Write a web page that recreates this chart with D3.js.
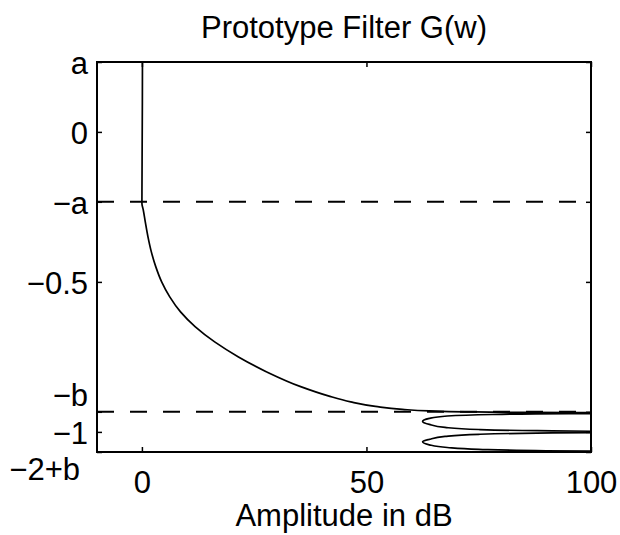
<!DOCTYPE html>
<html>
<head>
<meta charset="utf-8">
<script src="https://cdn.jsdelivr.net/npm/d3@7"></script>
<style>
  body { margin: 0; background: #fff; }
  text { font-family: "Liberation Sans", Arial, Helvetica, sans-serif; fill: #000; }
</style>
</head>
<body>
<div id="chart"></div>
<script>
'use strict';

// band edges
const edgeA = 0.233;
const edgeB = 0.933;

// y tick values and their labels
const yTickValues = [edgeA, 0, -edgeA, -0.5, -edgeB, -1, -2 + edgeB];
const yTickLabels = ['a', '0', '\u2212a', '\u22120.5', '\u2212b', '\u22121', '\u22122+b'];
const xTickValues = [0, 50, 100];

// guide lines (dashed)
const guideLevels = [-edgeA, -edgeB];

// response: normalised frequency (vertical) vs attenuation in dB (horizontal)
const freq = [
  0.233, 0.1, 0, -0.1, -0.2, -0.238,
  -0.26, -0.3, -0.35, -0.4, -0.45, -0.5, -0.55, -0.6, -0.65, -0.7,
  -0.75, -0.8, -0.85, -0.88, -0.9, -0.915, -0.925, -0.93,
  -0.933, -0.935, -0.937,
  -0.939, -0.942, -0.947, -0.955, -0.965, -0.975, -0.985, -0.992, -0.996, -0.999, -1.0,
  -1.001, -1.004, -1.008, -1.015, -1.025, -1.033, -1.043, -1.052, -1.058, -1.063, -1.067
];
const ampDb = [
  0.12, 0.1, 0.07, 0.04, 0.01, 0.0,
  0.3, 0.75, 1.35, 2.1, 3.1, 4.4, 6.2, 8.6, 11.9, 16.2,
  21.5, 27.8, 35.5, 41.5, 46.5, 52, 58, 64,
  72, 85, 140,
  95, 78, 68, 64, 62.5, 64, 67.5, 75, 88, 110, 140,
  110, 88, 75, 67.5, 64, 62.5, 64, 68, 75, 90, 140
];

const W = 620, H = 535;
const margin = { top: 62, right: 29, bottom: 83, left: 97 };
const width = W - margin.left - margin.right;
const height = H - margin.top - margin.bottom;

const svg = d3.select('#chart').append('svg')
  .attr('width', W)
  .attr('height', H)
  .append('g')
  .attr('transform', 'translate(' + margin.left + ',' + margin.top + ')');

const x = d3.scaleLinear().domain([-10, 100]).range([0, width]);
const y = d3.scaleLinear().domain([-2 + edgeB, edgeA]).range([height, 0]);

svg.append('clipPath').attr('id', 'plotClip')
  .append('rect').attr('width', width).attr('height', height);

// dashed guides
svg.selectAll('.guide').data(guideLevels).enter()
  .append('line')
  .attr('class', 'guide')
  .attr('x1', 0).attr('x2', width)
  .attr('y1', function (d) { return y(d); })
  .attr('y2', function (d) { return y(d); })
  .style('stroke', '#000')
  .style('stroke-width', 2)
  .style('stroke-dasharray', '17,16');

// response curve
const pts = freq.map(function (f, i) { return { f: f, db: ampDb[i] }; });
const line = d3.line()
  .x(function (d) { return x(d.db); })
  .y(function (d) { return y(d.f); })
  .curve(d3.curveMonotoneY);

svg.append('path')
  .datum(pts)
  .attr('clip-path', 'url(#plotClip)')
  .attr('d', line)
  .style('fill', 'none')
  .style('stroke', '#000')
  .style('stroke-width', 1.7);

// axes
const fontSize = 31;

svg.append('g')
  .attr('transform', 'translate(0,' + height + ')')
  .call(d3.axisBottom(x).tickValues(xTickValues).tickSizeInner(-5).tickSizeOuter(0).tickPadding(19));

const yAxis = svg.append('g')
  .call(d3.axisLeft(y).tickValues(yTickValues)
    .tickFormat(function (d, i) { return yTickLabels[i]; })
    .tickSizeInner(-5).tickSizeOuter(0).tickPadding(9));

svg.append('g')
  .attr('transform', 'translate(' + width + ',0)')
  .call(d3.axisRight(y).tickValues(yTickValues).tickFormat('').tickSizeInner(-5).tickSizeOuter(0));

svg.append('g')
  .call(d3.axisTop(x).tickValues(xTickValues).tickFormat('').tickSizeInner(-5).tickSizeOuter(0));

svg.selectAll('.domain').remove();
svg.selectAll('.tick line').style('stroke', '#000').style('stroke-width', 1.5);
svg.selectAll('.tick text')
  .style('font-size', fontSize + 'px')
  .style('font-family', '"Liberation Sans", Arial, sans-serif')
  .style('fill', '#000');

yAxis.selectAll('.tick text').attr('dy', '0.38em');

// -b sits above its tick, -2+b below the axis
yAxis.selectAll('.tick text')
  .filter(function (d, i) { return i === 4; })
  .attr('dy', '-0.2em');
yAxis.selectAll('.tick text')
  .filter(function (d, i) { return i === yTickValues.length - 1; })
  .attr('dy', '0.9em')
  .attr('dx', -8);

// frame
svg.append('rect')
  .attr('width', width)
  .attr('height', height)
  .style('fill', 'none')
  .style('stroke', '#000')
  .style('stroke-width', 2);

// title and label
svg.append('text')
  .attr('x', width / 2)
  .attr('y', -24)
  .style('text-anchor', 'middle')
  .style('font-size', fontSize + 'px')
  .text('Prototype Filter G(w)');

svg.append('text')
  .attr('x', width / 2)
  .attr('y', height + 74)
  .style('text-anchor', 'middle')
  .style('font-size', fontSize + 'px')
  .text('Amplitude in dB');
</script>
</body>
</html>
